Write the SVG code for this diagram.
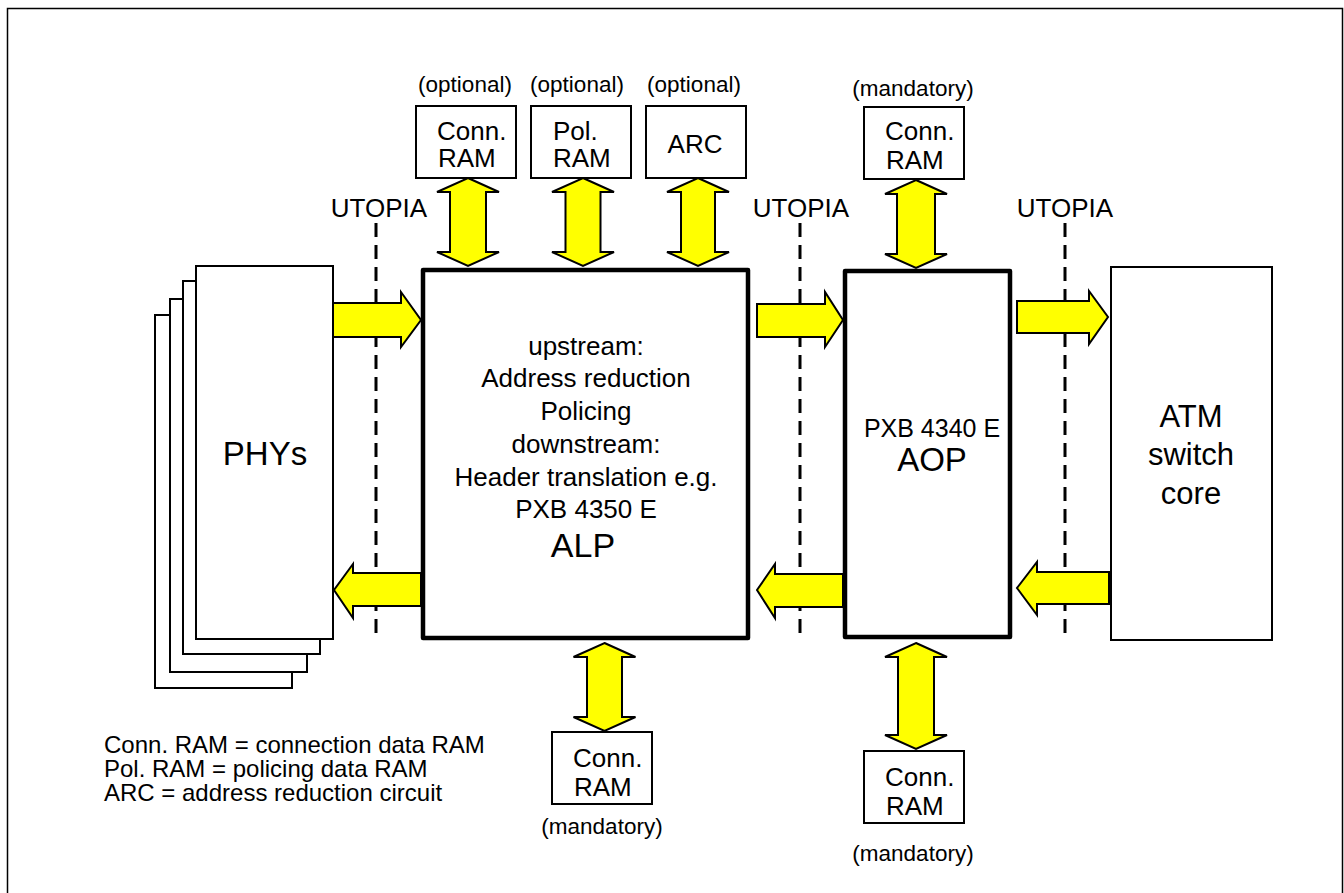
<svg xmlns="http://www.w3.org/2000/svg" width="1344" height="893" viewBox="0 0 1344 893">
<style>
text{font-family:"Liberation Sans",Arial,sans-serif;fill:#000}
.box{fill:#fff;stroke:#000;stroke-width:2}
.chip{fill:#fff;stroke:#000;stroke-width:4.5;stroke-linejoin:round}
.arr{fill:#ffff00;stroke:#000;stroke-width:2;stroke-linejoin:miter}
.dash{stroke:#000;stroke-width:3;stroke-dasharray:14 8;fill:none}
.t26{font-size:26px}
.t23{font-size:22.5px}
.t24{font-size:24px}
.mid{text-anchor:middle}
</style>
<rect width="1344" height="893" fill="#fff"/>
<path d="M7.5 900 V8.5 H1342.5 V900" fill="none" stroke="#000" stroke-width="1.5"/>

<g id="phys">
<rect class="box" x="155" y="315" width="137" height="373"/>
<rect class="box" x="170" y="299" width="137" height="373"/>
<rect class="box" x="183" y="281" width="137" height="373"/>
<rect class="box" x="196" y="266" width="137" height="373"/>
<text class="mid" x="265" y="465" font-size="33">PHYs</text>
</g>

<g id="alp">
<rect class="chip" x="423" y="270" width="325" height="368"/>
<g class="t26 mid">
<text x="586" y="355">upstream:</text>
<text x="586" y="387">Address reduction</text>
<text x="586" y="420">Policing</text>
<text x="586" y="453">downstream:</text>
<text x="586" y="486">Header translation e.g.</text>
<text x="586" y="518">PXB 4350 E</text>
</g>
<text class="mid" x="583" y="557" font-size="34">ALP</text>
</g>

<g id="aop">
<rect class="chip" x="845" y="271" width="165" height="366"/>
<text class="mid" x="932" y="437" font-size="25">PXB 4340 E</text>
<text class="mid" x="932" y="471" font-size="33">AOP</text>
</g>

<g id="atm">
<rect class="box" x="1111" y="267" width="161" height="373"/>
<g class="mid" font-size="31">
<text x="1191" y="427">ATM</text>
<text x="1191" y="465">switch</text>
<text x="1191" y="504">core</text>
</g>
</g>

<g id="alp-connram-opt">
<text class="t23 mid" x="465" y="92">(optional)</text>
<rect class="box" x="416" y="106" width="100" height="72"/>
<text class="t26" x="437" y="140">Conn.</text>
<text class="t26" x="438" y="167">RAM</text>
</g>
<g id="alp-polram-opt">
<text class="t23 mid" x="577" y="92">(optional)</text>
<rect class="box" x="531" y="106" width="100" height="72"/>
<text class="t26" x="553" y="140">Pol.</text>
<text class="t26" x="553" y="167">RAM</text>
</g>
<g id="alp-arc-opt">
<text class="t23 mid" x="694" y="92">(optional)</text>
<rect class="box" x="646" y="106" width="100" height="72"/>
<text class="t26 mid" x="695" y="153">ARC</text>
</g>
<g id="aop-connram-top">
<text class="t23 mid" x="913" y="96">(mandatory)</text>
<rect class="box" x="864" y="107" width="100" height="72"/>
<text class="t26" x="885" y="140">Conn.</text>
<text class="t26" x="886" y="169">RAM</text>
</g>
<g id="alp-connram-bottom">
<rect class="box" x="552" y="732" width="100" height="72"/>
<text class="t26" x="573" y="767">Conn.</text>
<text class="t26" x="574" y="796">RAM</text>
<text class="t23 mid" x="602" y="834">(mandatory)</text>
</g>
<g id="aop-connram-bottom">
<rect class="box" x="864" y="751" width="100" height="72"/>
<text class="t26" x="885" y="786">Conn.</text>
<text class="t26" x="886" y="815">RAM</text>
<text class="t23 mid" x="913" y="861">(mandatory)</text>
</g>

<g id="utopia">
<text class="t26 mid" x="379" y="217">UTOPIA</text>
<text class="t26 mid" x="801" y="217">UTOPIA</text>
<text class="t26 mid" x="1065" y="217">UTOPIA</text>
</g>

<g id="connectors">
<line class="dash" x1="376" y1="223" x2="376" y2="633"/>
<line class="dash" x1="800" y1="223" x2="800" y2="633"/>
<line class="dash" x1="1065" y1="223" x2="1065" y2="633"/>
<!-- horizontal arrows -->
<polygon class="arr" points="333,303 401,303 401,292 421,320 401,347 401,337 333,337"/>
<polygon class="arr" points="421,573 353,573 353,564 334,590 353,618 353,606 421,606"/>
<polygon class="arr" points="757,304 825,304 825,292 843,320 825,347 825,337 757,337"/>
<polygon class="arr" points="843,574 775,574 775,564 757,590 775,618 775,607 843,607"/>
<polygon class="arr" points="1017,301 1089,301 1089,291 1108,317 1089,344 1089,333 1017,333"/>
<polygon class="arr" points="1109,572 1037,572 1037,562 1017,588 1037,615 1037,604 1109,604"/>
<!-- vertical double arrows -->
<polygon class="arr" points="468,178 499,192 486,192 486,252 499,252 468,266 437,252 450,252 450,192 437,192"/>
<polygon class="arr" points="583,178 614,192 600.5,192 600.5,252 614,252 583,266 552,252 565.5,252 565.5,192 552,192"/>
<polygon class="arr" points="698,178 729,192 715,192 715,252 729,252 698,266 667,252 681,252 681,192 667,192"/>
<polygon class="arr" points="916,180 947,194 935,194 935,254 947,254 916,268 885,254 897,254 897,194 885,194"/>
<polygon class="arr" points="604.5,643 635.5,657 622,657 622,717 635.5,717 604.5,731 573.5,717 587,717 587,657 573.5,657"/>
<polygon class="arr" points="916,643 947,657 934,657 934,735 947,735 916,749 885,735 898,735 898,657 885,657"/>
</g>

<g id="legend" class="t24">
<text x="104" y="753">Conn. RAM = connection data RAM</text>
<text x="104" y="777">Pol. RAM = policing data RAM</text>
<text x="104" y="801">ARC = address reduction circuit</text>
</g>
</svg>
